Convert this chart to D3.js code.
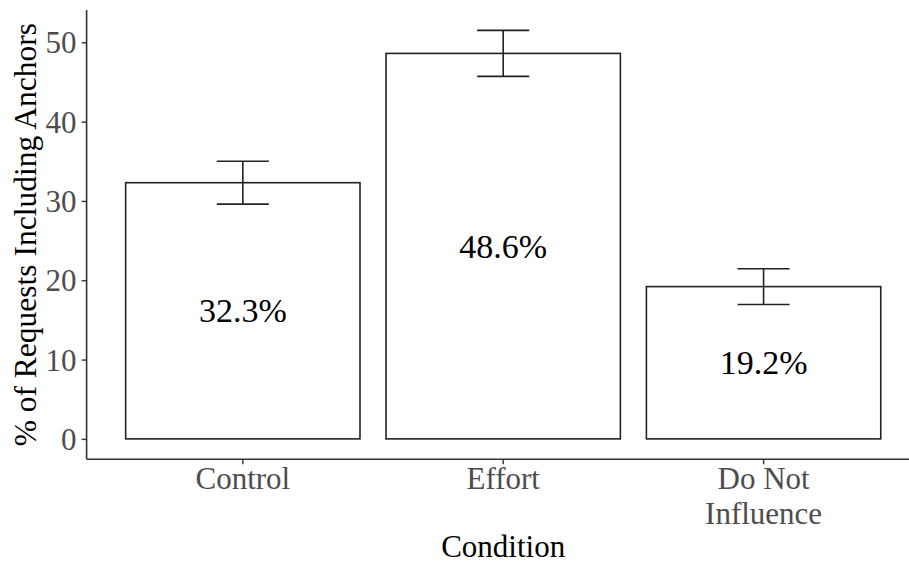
<!DOCTYPE html>
<html><head><meta charset="utf-8">
<script src="https://cdn.jsdelivr.net/npm/d3@7"></script>
<style>body{margin:0;background:#fff}svg{display:block}</style>
</head><body>
<svg id="c" width="909" height="564"></svg>
<script>
const categories = ["Control", "Effort", "Do Not Influence"];
const tickLines = [["Control"], ["Effort"], ["Do Not", "Influence"]];
const values = [32.3, 48.6, 19.2];
const lower = [29.6, 45.7, 16.95];
const upper = [35.0, 51.5, 21.45];
const valueLabels = ["32.3%", "48.6%", "19.2%"];
const yTicks = [0, 10, 20, 30, 40, 50];
const xTitle = "Condition";
const yTitle = "% of Requests Including Anchors";

const svg = d3.select("#c");
const font = "'Liberation Serif','Times New Roman',serif";
const pL = 86.6, pR = 919.8, pT = 10, pB = 459.3;

const x = d3.scaleBand().domain(categories).range([pL, pR]).paddingInner(0.1).paddingOuter(0.15);
const y = d3.scaleLinear().domain([-2.575, 54.075]).range([pB, pT]);

const data = categories.map((c, i) => ({c, v: values[i], lo: lower[i], hi: upper[i], lab: valueLabels[i], lines: tickLines[i]}));

// bars
svg.selectAll("rect.bar").data(data).join("rect")
  .attr("x", d => x(d.c)).attr("width", x.bandwidth())
  .attr("y", d => y(d.v)).attr("height", d => y(0) - y(d.v))
  .attr("fill", "#fff").attr("stroke", "#222").attr("stroke-width", 1.6);

// error bars
const cap = x.step() * 0.2;
const eb = svg.selectAll("g.eb").data(data).join("g").attr("stroke", "#222").attr("stroke-width", 1.6);
eb.append("line").attr("x1", d => x(d.c) + x.bandwidth()/2).attr("x2", d => x(d.c) + x.bandwidth()/2)
  .attr("y1", d => y(d.lo)).attr("y2", d => y(d.hi));
eb.append("line").attr("x1", d => x(d.c) + x.bandwidth()/2 - cap/2).attr("x2", d => x(d.c) + x.bandwidth()/2 + cap/2)
  .attr("y1", d => y(d.hi)).attr("y2", d => y(d.hi));
eb.append("line").attr("x1", d => x(d.c) + x.bandwidth()/2 - cap/2).attr("x2", d => x(d.c) + x.bandwidth()/2 + cap/2)
  .attr("y1", d => y(d.lo)).attr("y2", d => y(d.lo));

// value labels
svg.selectAll("text.val").data(data).join("text")
  .attr("x", d => x(d.c) + x.bandwidth()/2).attr("y", d => y(d.v/2)).attr("dy", "0.34em")
  .attr("text-anchor", "middle").attr("font-family", font).attr("font-size", 34).attr("fill", "#000")
  .text(d => d.lab);

// y axis
const ya = svg.append("g").attr("transform", `translate(${pL},0)`)
  .call(d3.axisLeft(y).tickValues(yTicks).tickSize(5).tickPadding(5).tickSizeOuter(0));
ya.select(".domain").attr("stroke", "#333").attr("stroke-width", 1.6).attr("d", `M0,${pT}V${pB}`);
ya.selectAll(".tick line").attr("stroke", "#333").attr("stroke-width", 1.4);
ya.selectAll(".tick text").attr("font-family", font).attr("font-size", 31).attr("fill", "#4d4d4d").attr("dy", "0.34em");

// x axis
const xa = svg.append("g").attr("transform", `translate(0,${pB})`)
  .call(d3.axisBottom(x).tickSize(5).tickSizeOuter(0).tickFormat(""));
xa.select(".domain").attr("stroke", "#333").attr("stroke-width", 1.6).attr("d", `M${pL},0H${pR}`);
xa.selectAll(".tick line").attr("stroke", "#333").attr("stroke-width", 1.4);
xa.selectAll(".tick text").remove();
xa.selectAll(".tick").each(function(d, i) {
  const t = d3.select(this).append("text").attr("text-anchor", "middle")
    .attr("font-family", font).attr("font-size", 31).attr("fill", "#4d4d4d").attr("y", 30);
  tickLines[i].forEach((ln, j) => t.append("tspan").attr("x", 0).attr("dy", j === 0 ? 0 : 35).text(ln));
});

// titles
svg.append("text").attr("x", (pL + pR) / 2).attr("y", 557)
  .attr("text-anchor", "middle").attr("font-family", font).attr("font-size", 31).attr("fill", "#000")
  .text(xTitle);
svg.append("text").attr("transform", `translate(35.5,${(pT + pB) / 2}) rotate(-90)`)
  .attr("text-anchor", "middle").attr("font-family", font).attr("font-size", 31.5).attr("fill", "#000")
  .text(yTitle);
</script>
</body></html>
